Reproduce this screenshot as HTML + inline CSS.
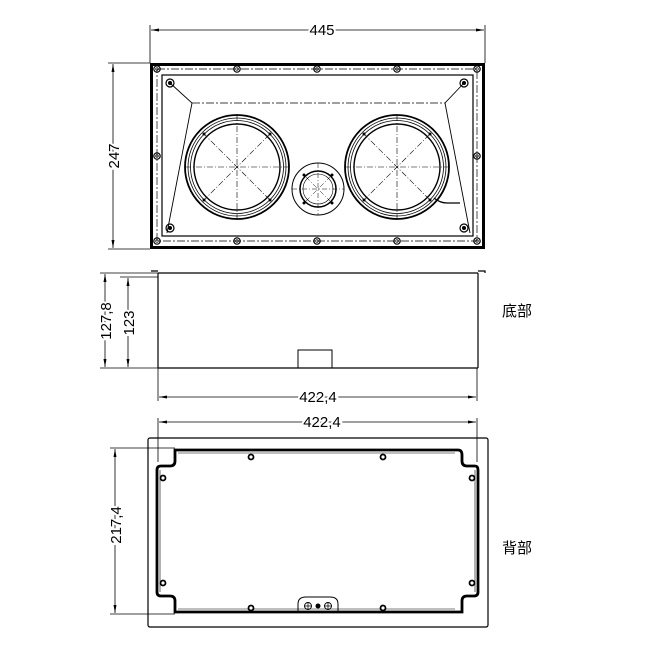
<!DOCTYPE html>
<html><head><meta charset="utf-8"><style>
html,body{margin:0;padding:0;background:#fff;}
svg{display:block;}
text{font-family:"Liberation Sans","Noto Sans CJK SC",sans-serif;fill:#000;}
</style></head><body>
<svg width="650" height="650" viewBox="0 0 650 650" xmlns="http://www.w3.org/2000/svg">
<defs>
<marker id="ar" markerWidth="8" markerHeight="6" refX="8" refY="3" orient="auto-start-reverse" markerUnits="userSpaceOnUse"><path d="M0,1.5 L8,3 L0,4.5 z" fill="#000"/></marker>
<g id="scr"><circle r="3.2" fill="none" stroke="#000" stroke-width="1.2"/><circle r="1.3" fill="none" stroke="#000" stroke-width="0.7"/></g>
<g id="bscr"><circle r="3.4" fill="#000"/><circle r="1.6" fill="#fff"/></g>
<g id="woof">
<circle r="52" fill="none" stroke="#000" stroke-width="1.8"/>
<circle r="49" fill="none" stroke="#000" stroke-width="0.8"/>
<circle r="46.5" fill="none" stroke="#000" stroke-width="0.8"/>
<circle r="43" fill="none" stroke="#000" stroke-width="1.4"/>
<g stroke="#000" stroke-width="0.6" stroke-dasharray="6,2,1,2">
<line x1="-52" y1="0" x2="52" y2="0"/><line x1="0" y1="-52" x2="0" y2="52"/>
<line x1="-34" y1="-34" x2="34" y2="34"/><line x1="-34" y1="34" x2="34" y2="-34"/></g>
<circle cx="-33" cy="-33" r="1.5"/><circle cx="33" cy="-33" r="1.5"/><circle cx="-33" cy="33" r="1.5"/><circle cx="33" cy="33" r="1.5"/>
</g>
</defs>
<g fill="none" stroke="#000">
<line x1="150" y1="25" x2="150" y2="63" stroke-width="0.8"/>
<line x1="485" y1="25" x2="485" y2="63" stroke-width="0.8"/>
<line x1="151" y1="30" x2="484" y2="30" stroke-width="0.8" marker-start="url(#ar)" marker-end="url(#ar)"/>
<line x1="108" y1="63" x2="150" y2="63" stroke-width="0.8"/>
<line x1="108" y1="249" x2="150" y2="249" stroke-width="0.8"/>
<line x1="113" y1="64" x2="113" y2="248" stroke-width="0.8" marker-start="url(#ar)" marker-end="url(#ar)"/>
<rect x="151.5" y="64.5" width="332" height="183" stroke-width="3"/>
<rect x="157" y="69" width="320" height="172" stroke-width="0.7" stroke-dasharray="8,2,2,2"/>
<rect x="162" y="75" width="311" height="161" stroke-width="1.2"/>
<line x1="192" y1="103" x2="445" y2="103" stroke-width="0.7" stroke-dasharray="8,2,2,2"/>
<polyline points="170,83 192,103 167,233" stroke-width="0.9"/>
<polyline points="464,83 445,103 470,233" stroke-width="0.9"/>
<line x1="158" y1="273" x2="478" y2="273" stroke-width="1.2"/>
<line x1="158" y1="273" x2="158" y2="368" stroke-width="1.2"/>
<line x1="478" y1="273" x2="478" y2="368" stroke-width="1.2"/>
<line x1="158" y1="368" x2="478" y2="368" stroke-width="1.2"/>
<path d="M151,271 h7 M478,271 h7 v2" stroke-width="1.2"/>
<rect x="298" y="350" width="34" height="18" stroke-width="1"/>
<line x1="100" y1="273" x2="158" y2="273" stroke-width="0.8"/>
<line x1="100" y1="368" x2="158" y2="368" stroke-width="0.8"/>
<line x1="120" y1="277" x2="158" y2="277" stroke-width="0.8"/>
<line x1="105" y1="274" x2="105" y2="367" stroke-width="0.8" marker-start="url(#ar)" marker-end="url(#ar)"/>
<line x1="128" y1="278" x2="128" y2="367" stroke-width="0.8" marker-start="url(#ar)" marker-end="url(#ar)"/>
<line x1="158" y1="368" x2="158" y2="401" stroke-width="0.8"/>
<line x1="477" y1="368" x2="477" y2="401" stroke-width="0.8"/>
<line x1="159" y1="397" x2="476" y2="397" stroke-width="0.8" marker-start="url(#ar)" marker-end="url(#ar)"/>
<rect x="148" y="438" width="340" height="189" rx="2" stroke-width="1.2"/>
<line x1="158" y1="418" x2="158" y2="462" stroke-width="0.8"/>
<line x1="477" y1="418" x2="477" y2="462" stroke-width="0.8"/>
<line x1="159" y1="422" x2="476" y2="422" stroke-width="0.8" marker-start="url(#ar)" marker-end="url(#ar)"/>
<path d="M175,450 H458 Q462,450 462,455 V461 Q462,466 467,466 H475 Q478,466 478,470 V592 Q478,596 474,596 H467 Q462,596 462,601 V612 H175 V601 Q175,596 170,596 H161 Q157,596 157,592 V470 Q157,466 161,466 H170 Q175,466 175,461 Z" stroke-width="2.8"/>
<path d="M178,453 H455 M160,470 V592 M475,470 V592 M178,609 H455" stroke-width="0.6"/>
<line x1="110" y1="448" x2="175" y2="448" stroke-width="0.8"/>
<line x1="110" y1="614" x2="175" y2="614" stroke-width="0.8"/>
<line x1="115" y1="449" x2="115" y2="613" stroke-width="0.8" marker-start="url(#ar)" marker-end="url(#ar)"/>
<path d="M298,612 V604 Q298,597 306,597 H330 Q338,597 338,604 V612" stroke-width="1"/>
<circle cx="308" cy="606" r="3.5" stroke-width="0.9"/><circle cx="328" cy="606" r="3.5" stroke-width="0.9"/>
<path d="M304,606 h8 M308,602 v8 M324,606 h8 M328,602 v8" stroke-width="0.7"/>
</g>
<circle cx="318" cy="606" r="2.5" fill="#000"/>
<use href="#scr" x="157" y="69"/><use href="#scr" x="237" y="69"/><use href="#scr" x="317" y="69"/><use href="#scr" x="397" y="69"/><use href="#scr" x="477" y="69"/>
<use href="#scr" x="157" y="241"/><use href="#scr" x="237" y="241"/><use href="#scr" x="317" y="241"/><use href="#scr" x="397" y="241"/><use href="#scr" x="477" y="241"/>
<use href="#scr" x="157" y="156"/><use href="#scr" x="477" y="156"/>
<g fill="none" stroke="#000"><circle cx="170" cy="83" r="4" stroke-width="1.2"/><circle cx="464" cy="83" r="4" stroke-width="1.2"/><circle cx="170" cy="228" r="4" stroke-width="1.2"/><circle cx="464" cy="228" r="4" stroke-width="1.2"/></g>
<circle cx="170" cy="83" r="2"/><circle cx="464" cy="83" r="2"/><circle cx="170" cy="228" r="2"/><circle cx="464" cy="228" r="2"/>
<use href="#woof" x="237" y="167"/>
<use href="#woof" x="397" y="167"/>
<path d="M434,198 Q440,203 447,203 H460" fill="none" stroke="#000" stroke-width="1.2"/>
<g transform="translate(318,189)" fill="none" stroke="#000">
<circle r="26" stroke-width="1"/><circle r="18" stroke-width="1.5"/><circle r="15" stroke-width="0.6"/>
<g stroke-width="0.5" stroke-dasharray="5,2,1,2"><line x1="-26" y1="0" x2="26" y2="0"/><line x1="0" y1="-26" x2="0" y2="26"/><line x1="-12" y1="-12" x2="12" y2="12"/><line x1="-12" y1="12" x2="12" y2="-12"/></g>
</g>
<circle cx="304" cy="175" r="1.5"/><circle cx="332" cy="175" r="1.5"/><circle cx="304" cy="203" r="1.5"/><circle cx="332" cy="203" r="1.5"/>
<use href="#bscr" x="251" y="457"/><use href="#bscr" x="383" y="457"/><use href="#bscr" x="251" y="608"/><use href="#bscr" x="383" y="608"/>
<use href="#bscr" x="163" y="478"/><use href="#bscr" x="472" y="478"/><use href="#bscr" x="163" y="583"/><use href="#bscr" x="472" y="583"/>
<g font-size="15">
<text x="322" y="35" text-anchor="middle" style="paint-order:stroke" stroke="#fff" stroke-width="4">445</text>
<text transform="translate(119,156) rotate(-90)" text-anchor="middle" style="paint-order:stroke" stroke="#fff" stroke-width="4">247</text>
<text transform="translate(111,321) rotate(-90)" text-anchor="middle" style="paint-order:stroke" stroke="#fff" stroke-width="4">127,8</text>
<text transform="translate(134,323) rotate(-90)" text-anchor="middle" style="paint-order:stroke" stroke="#fff" stroke-width="4">123</text>
<text x="318" y="402" text-anchor="middle" style="paint-order:stroke" stroke="#fff" stroke-width="4">422,4</text>
<text x="322" y="427" text-anchor="middle" style="paint-order:stroke" stroke="#fff" stroke-width="4">422,4</text>
<text transform="translate(121,525) rotate(-90)" text-anchor="middle" style="paint-order:stroke" stroke="#fff" stroke-width="4">217,4</text>
<text x="502" y="316">底部</text>
<text x="502" y="553">背部</text>
</g>
</svg>
</body></html>
